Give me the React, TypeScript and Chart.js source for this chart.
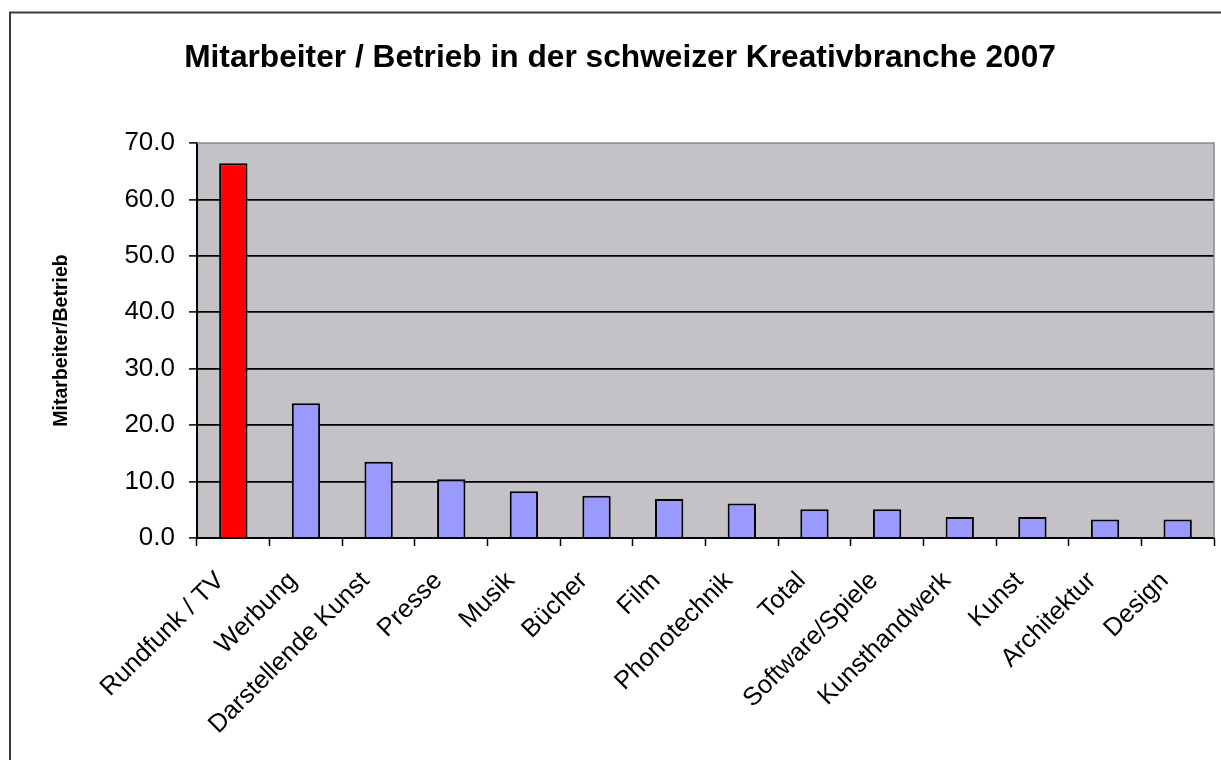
import React, { useEffect, useRef } from "react";
import { Chart, registerables } from "chart.js";

Chart.register(...registerables);

const categories = [
  "Rundfunk / TV",
  "Werbung",
  "Darstellende Kunst",
  "Presse",
  "Musik",
  "Bücher",
  "Film",
  "Phonotechnik",
  "Total",
  "Software/Spiele",
  "Kunsthandwerk",
  "Kunst",
  "Architektur",
  "Design",
];
const values = [66.4, 23.9, 13.5, 10.4, 8.3, 7.5, 6.9, 6.1, 5.1, 5.1, 3.7, 3.7, 3.3, 3.3];
const barColors = [
  "#FF0000",
  "#9999FF", "#9999FF", "#9999FF", "#9999FF", "#9999FF", "#9999FF",
  "#9999FF", "#9999FF", "#9999FF", "#9999FF", "#9999FF", "#9999FF", "#9999FF",
];
const titleText = "Mitarbeiter / Betrieb in der schweizer Kreativbranche 2007";
const yTitle = "Mitarbeiter/Betrieb";
const yMin = 0;
const yMax = 70;
const yStep = 10;

const FONT = "'Liberation Sans', Arial, sans-serif";

const framePlugin = {
  id: "framePlugin",
  beforeDraw(chart: any) {
    const { ctx, chartArea } = chart;
    ctx.save();
    ctx.fillStyle = "#ffffff";
    ctx.fillRect(0, 0, chart.width, chart.height);
    ctx.strokeStyle = "#3a3a3a";
    ctx.lineWidth = 2;
    ctx.strokeRect(10, 12.5, chart.width + 50, chart.height + 50);
    ctx.fillStyle = "#C4C2C6";
    ctx.fillRect(chartArea.left, chartArea.top, chartArea.right - chartArea.left, chartArea.bottom - chartArea.top);
    ctx.restore();
  },
  afterDatasetsDraw(chart: any) {
    const { ctx, chartArea } = chart;
    ctx.save();
    ctx.strokeStyle = "#8a8a8a";
    ctx.lineWidth = 1.5;
    ctx.beginPath();
    ctx.moveTo(chartArea.left, chartArea.top);
    ctx.lineTo(chartArea.right, chartArea.top);
    ctx.lineTo(chartArea.right, chartArea.bottom);
    ctx.stroke();
    ctx.restore();
  },
  afterDraw(chart: any) {
    const { ctx } = chart;
    ctx.save();
    ctx.fillStyle = "#000000";
    ctx.font = `bold 31.7px ${FONT}`;
    ctx.textAlign = "center";
    ctx.textBaseline = "alphabetic";
    ctx.fillText(titleText, 620, 67);
    ctx.restore();
  },
};

export default function App() {
  const canvasRef = useRef<HTMLCanvasElement | null>(null);

  useEffect(() => {
    if (!canvasRef.current) return;
    const chart = new Chart(canvasRef.current, {
      type: "bar",
      data: {
        labels: categories,
        datasets: [
          {
            data: values,
            backgroundColor: barColors,
            borderColor: "#000000",
            borderWidth: 2,
            barPercentage: 0.39,
            categoryPercentage: 1,
          },
        ],
      },
      plugins: [framePlugin],
      options: {
        animation: false,
        responsive: true,
        maintainAspectRatio: false,
        layout: { padding: { left: 0, right: 7, top: 143, bottom: 0 } },
        plugins: {
          legend: { display: false },
          tooltip: { enabled: false },
          title: { display: false },
        },
        scales: {
          x: {
            offset: true,
            grid: {
              display: true,
              offset: true,
              drawOnChartArea: false,
              drawTicks: true,
              tickLength: 8,
              tickColor: "#000000",
              tickWidth: 1.5,
            },
            border: { display: true, color: "#000000", width: 2 },
            ticks: {
              autoSkip: false,
              maxRotation: 45,
              minRotation: 45,
              color: "#000000",
              padding: 20,
              labelOffset: -13,
              font: { family: FONT, size: 25.5 },
            },
            afterFit(scale: any) {
              scale.height = 222;
            },
          },
          y: {
            min: yMin,
            max: yMax,
            grid: {
              color: (c: any) => (c.tick && c.tick.value === yMax ? "rgba(0,0,0,0)" : "#000000"),
              lineWidth: 1.8,
              drawTicks: true,
              tickLength: 8,
              tickColor: "#000000",
              tickWidth: 1.5,
            },
            border: { display: true, color: "#000000", width: 2 },
            ticks: {
              stepSize: yStep,
              color: "#000000",
              padding: 14,
              font: { family: FONT, size: 26 },
              callback: (v: any) => Number(v).toFixed(1),
            },
            title: {
              display: true,
              text: yTitle,
              color: "#000000",
              font: { family: FONT, size: 19.5, weight: "bold", lineHeight: 1.2 },
              padding: { top: 50, bottom: 0 },
            },
            afterFit(scale: any) {
              scale.width = 197;
            },
          },
        },
      },
    });
    return () => chart.destroy();
  }, []);

  return (
    <div style={{ position: "fixed", left: 0, top: 0, width: 1221, height: 760, background: "#fff" }}>
      <canvas ref={canvasRef} />
    </div>
  );
}
